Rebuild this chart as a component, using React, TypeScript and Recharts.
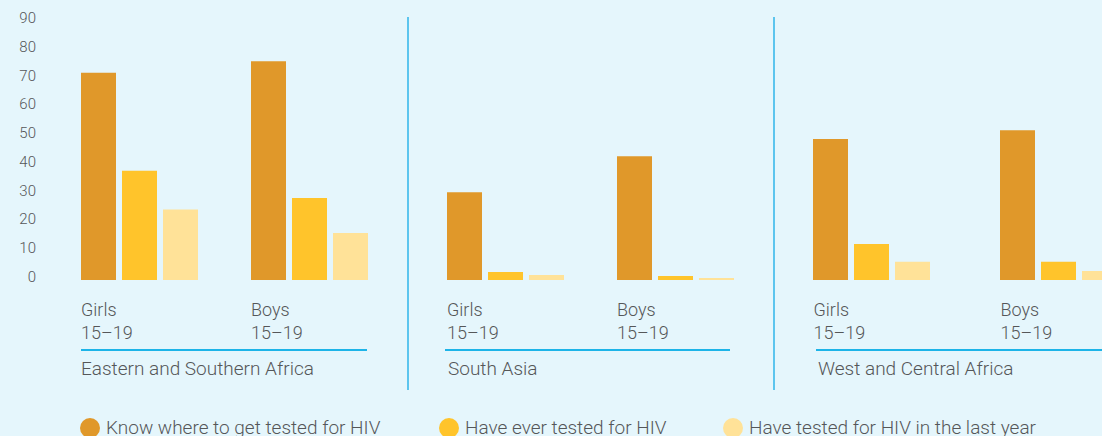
import { Bar, BarChart, XAxis, YAxis } from "recharts";

const regions = ["Eastern and Southern Africa", "South Asia", "West and Central Africa"];
const groups = ["Girls", "Boys"];
const ageBand = "15–19";
const yTicks = [0, 10, 20, 30, 40, 50, 60, 70, 80, 90];

// one pair per region: [girls, boys]
const knowWhere = [[72, 76], [30.5, 43], [49, 52]];
const everTested = [[38, 28.5], [2.8, 1.4], [12.5, 6.3]];
const lastYear = [[24.5, 16.3], [1.7, 0.7], [6.3, 3.1]];

const series = [
  { key: "know", name: "Know where to get tested for HIV", color: "#e0982a" },
  { key: "ever", name: "Have ever tested for HIV", color: "#ffc42b" },
  { key: "last", name: "Have tested for HIV in the last year", color: "#ffe298" },
];

const FONT = "Roboto, 'Liberation Sans', sans-serif";
const TEXT = "#555759";
const BG = "#e5f6fc";

// panel placement (page px)
const panels = [
  { left: 0, width: 394, axisWidth: 54, lineLeft: 81, lineWidth: 286, labelLeft: 81 },
  { left: 420, width: 340, axisWidth: 0, lineLeft: 445, lineWidth: 285, labelLeft: 448 },
  { left: 778, width: 374, axisWidth: 0, lineLeft: 816, lineWidth: 300, labelLeft: 818 },
];
const separators = [407, 773];
const legendLeft = [80, 439, 723];

function ValueTick({ x, y, payload }: any) {
  return (
    <text x={x} y={y - 3} textAnchor="end" dominantBaseline="central" fill={TEXT} fontSize={15} fontWeight={300} fontFamily={FONT}>
      {payload.value}
    </text>
  );
}

function CategoryTick({ x, y, payload }: any) {
  const left = x - 58;
  return (
    <text x={left} y={y} fill={TEXT} fontSize={18} fontWeight={300} fontFamily={FONT}>
      <tspan x={left} dy={36}>{payload.value}</tspan>
      <tspan x={left} dy={23}>{ageBand}</tspan>
    </text>
  );
}

function Panel({ index }: { index: number }) {
  const p = panels[index];
  const data = groups.map((g, gi) => ({
    group: g,
    know: knowWhere[index][gi],
    ever: everTested[index][gi],
    last: lastYear[index][gi],
  }));
  return (
    <div style={{ position: "absolute", left: p.left, top: 0 }}>
      <BarChart
        width={p.width}
        height={360}
        data={data}
        margin={{ top: 21, right: 0, bottom: 0, left: 0 }}
        barSize={35}
        barGap={6}
      >
        <XAxis dataKey="group" height={80} tickLine={false} axisLine={false} tickSize={0} tickMargin={0} interval={0} tick={<CategoryTick />} />
        <YAxis
          hide={p.axisWidth === 0}
          width={p.axisWidth}
          domain={[0, 90]}
          ticks={yTicks}
          axisLine={false}
          tickLine={false}
          tickSize={0}
          tickMargin={18}
          tick={<ValueTick />}
        />
        {series.map((s) => (
          <Bar key={s.key} dataKey={s.key} name={s.name} fill={s.color} isAnimationActive={false} />
        ))}
      </BarChart>
    </div>
  );
}

export default function App() {
  return (
    <div
      style={{
        position: "absolute",
        left: 0,
        top: 0,
        width: 1102,
        height: 436,
        overflow: "hidden",
        background: BG,
        fontFamily: FONT,
        fontWeight: 300,
        color: TEXT,
      }}
    >
      {regions.map((r, i) => (
        <Panel key={r} index={i} />
      ))}
      {separators.map((x) => (
        <div key={x} style={{ position: "absolute", left: x, top: 17, width: 2, height: 373, background: "#5cc5ee" }} />
      ))}
      {regions.map((r, i) => (
        <div key={r + "-line"}>
          <div style={{ position: "absolute", left: panels[i].lineLeft, top: 349, width: panels[i].lineWidth, height: 1.5, background: "#1db4e8" }} />
          <div style={{ position: "absolute", left: panels[i].labelLeft, top: 358, fontSize: 19, lineHeight: "22px", whiteSpace: "nowrap" }}>{r}</div>
        </div>
      ))}
      {series.map((s, i) => (
        <div key={s.key} style={{ position: "absolute", left: legendLeft[i], top: 417, display: "flex", alignItems: "center", whiteSpace: "nowrap" }}>
          <span style={{ width: 20, height: 20, borderRadius: 10, background: s.color, display: "inline-block" }} />
          <span style={{ marginLeft: 6, fontSize: 19, lineHeight: "22px" }}>{s.name}</span>
        </div>
      ))}
    </div>
  );
}
